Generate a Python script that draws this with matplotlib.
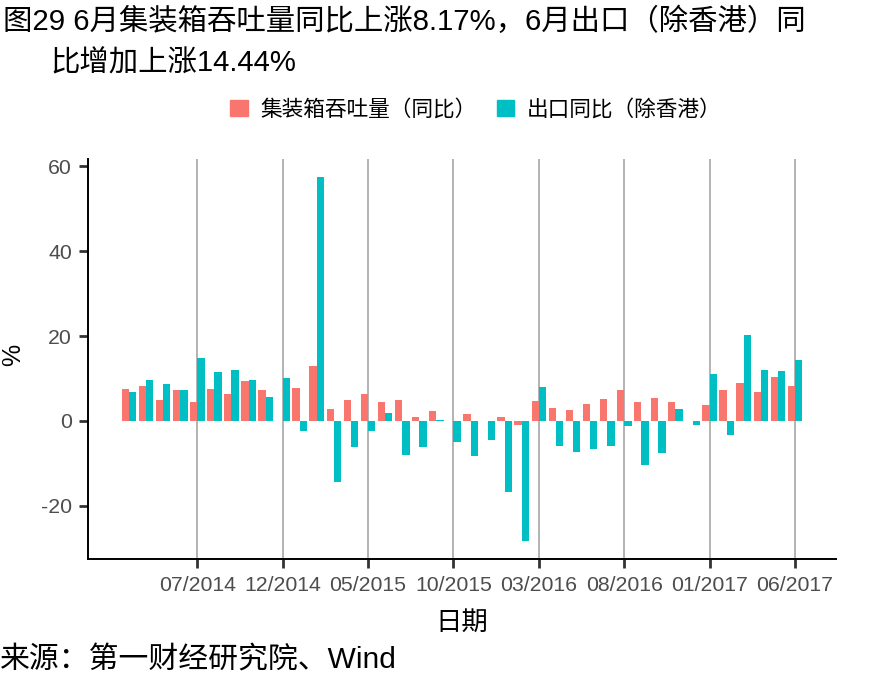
import numpy as np
import pandas as pd
import matplotlib
matplotlib.use("Agg")
import matplotlib.pyplot as plt
from matplotlib.patches import Patch

plt.rcParams['font.family'] = ['Liberation Sans', 'Noto Sans CJK SC', 'DejaVu Sans']
plt.rcParams['axes.unicode_minus'] = False

# monthly data, 03/2014 - 06/2017
months = pd.date_range("2014-03-01", "2017-06-01", freq="MS")
container = [7.5, 8.2, 4.9, 7.3, 4.5, 7.5, 6.4, 9.4, 7.3, np.nan,
             7.8, 12.9, 2.8, 4.9, 6.4, 4.5, 4.9, 0.9, 2.4, np.nan,
             1.6, np.nan, 0.9, -0.9, 4.7, 3.1, 2.6, 4.0, 5.2, 7.3,
             4.5, 5.4, 4.5, np.nan, 3.8, 7.3, 8.9, 6.8, 10.4, 8.17]
export = [6.8, 9.7, 8.7, 7.3, 14.8, 11.5, 12.0, 9.7, 5.7, 10.1,
          -2.4, 57.4, -14.4, -6.1, -2.4, 1.9, -8.0, -6.1, 0.2, -4.9,
          -8.2, -4.5, -16.7, -28.2, 8.0, -5.9, -7.3, -6.6, -5.9, -1.2,
          -10.4, -7.5, 2.8, -0.9, 11.1, -3.3, 20.2, 12.0, 11.8, 14.44]
tick_months = ["07/2014", "12/2014", "05/2015", "10/2015",
               "03/2016", "08/2016", "01/2017", "06/2017"]
names = ["集装箱吞吐量（同比）", "出口同比（除香港）"]
colors = ["#F8766D", "#00BFC4"]

W, H = 885, 688
fig = plt.figure(figsize=(W / 100, H / 100), dpi=100)
ax = fig.add_axes([88 / W, (H - 559) / H, (836 - 88) / W, (559 - 159) / H])

labels = [m.strftime("%m/%Y") for m in months]
x = np.arange(len(months))
bw = 0.43
ax.bar(x - bw / 2, container, bw, color=colors[0])
ax.bar(x + bw / 2, export, bw, color=colors[1])

ticks = [labels.index(t) for t in tick_months]
ax.set_xticks(ticks)
ax.set_xticklabels(tick_months)
ax.set_xlim(-2.4, len(months) - 1 + 2.4)
ax.set_ylim(-32.5, 61.7)
ax.set_yticks([-20, 0, 20, 40, 60])

ax.grid(axis="x", color="#B3B3B3", linewidth=1.4)
ax.set_axisbelow(True)
for s in ["top", "right"]:
    ax.spines[s].set_visible(False)
for s in ["left", "bottom"]:
    ax.spines[s].set_linewidth(1.4)
    ax.spines[s].set_color("black")
ax.tick_params(length=6.5, width=2, color="#333333", labelcolor="#4D4D4D",
               labelsize=15.3)
ax.tick_params(axis="x", pad=6)
ax.tick_params(axis="y", pad=5)

fig.text(13 / W, 1 - 355 / H, "%", rotation=90, ha="center", va="center", fontsize=18)
fig.text(462 / W, 1 - 623 / H, "日期", ha="center", va="center", fontsize=19)

fig.text(3 / W, 1 - 22 / H, "图29 6月集装箱吞吐量同比上涨8.17%，6月出口（除香港）同",
         ha="left", va="center", fontsize=21.2)
fig.text(50 / W, 1 - 63 / H, "比增加上涨14.44%", ha="left", va="center", fontsize=21.2)

handles = [Patch(color=c) for c in colors]
fig.legend(handles, names, loc="center", bbox_to_anchor=(476 / W, 1 - 110 / H),
           ncol=2, frameon=False, fontsize=15.6, handlelength=0.8, handleheight=0.8,
           handletextpad=0.6, columnspacing=0.9)

fig.text(0, 1 - 660 / H, "来源：第一财经研究院、Wind", ha="left", va="center", fontsize=21.5)

fig.savefig("out.png", dpi=100)
